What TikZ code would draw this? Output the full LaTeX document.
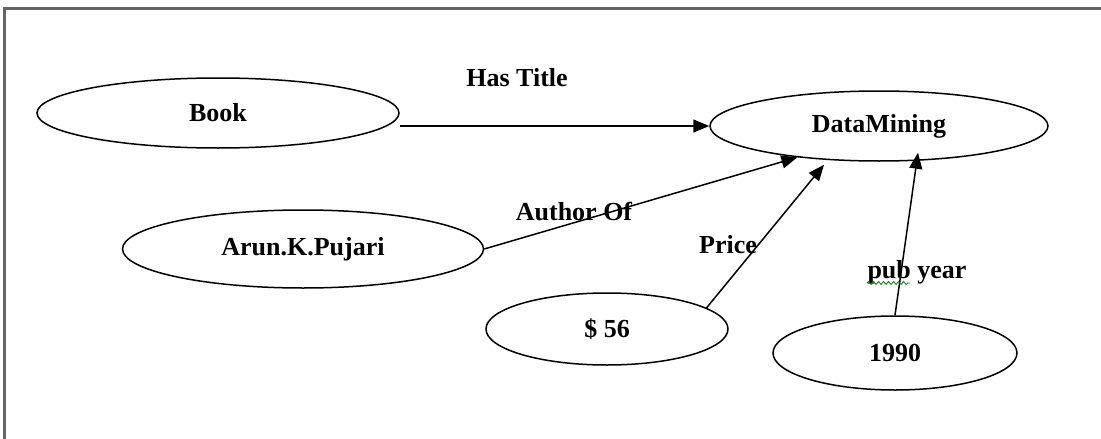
\documentclass[tikz,border=0pt]{standalone}
\usepackage{fontspec}
\setmainfont{Liberation Serif}
\usetikzlibrary{shapes.geometric,arrows.meta,calc,decorations.pathmorphing}

\tikzset{
  entity/.style={draw, ellipse, line width=1.5pt, inner sep=0pt,
    font=\fontsize{26}{30}\selectfont\bfseries},
  relname/.style={font=\fontsize{26}{30}\selectfont\bfseries, inner sep=0pt},
  link/.style={line width=1.5pt, -{Triangle[length=16pt,width=13pt]}}
}

\begin{document}
\begin{tikzpicture}[x=1pt,y=-1pt]
    \useasboundingbox (0,0) rectangle (1101,439);
    % page frame (only top and left show)
    \draw [line width=3pt, black!60] (4,439) -- (4,8.5) -- (1101,8.5);

    \node [entity, minimum width=362pt, minimum height=70pt] (Book) at (218,113) {Book};
    \node [entity, minimum width=361pt, minimum height=78pt] (Author) at (303,249) {Arun.K.Pujari};
    \node [entity, minimum width=338pt, minimum height=70pt] (Title) at (879,126) {DataMining};
    \node [entity, minimum width=242pt, minimum height=72pt] (Cost) at (607,329) {\$ 56};
    \node [entity, minimum width=244pt, minimum height=74pt] (Year) at (895,353) {1990};

    \draw [link] (Book.east |- Title.west) -- (Title.west);
    \draw [link] (Author.east) -- (Title.201);
    \draw [link] (Cost.12) -- ($(Title.south)+(-55,3)$);
    \draw [link] (Year.north) -- ($(Title.south)+(39,-9)$);

    \node [relname] (HasTitle) at (517,78) {Has Title};
    \node [relname] (AuthorOf) at (574,212) {Author Of};
    \node [relname] (Price) at (728,245) {Price};
    \node [relname] (PubYear) at (917,272) {pub year};

    % spell check squiggle under "pub"
    \draw [green!50!black, line width=0.8pt, decorate,
      decoration={snake, amplitude=1.5pt, segment length=5pt}] (867,283) -- (910,283);
\end{tikzpicture}
\end{document}
